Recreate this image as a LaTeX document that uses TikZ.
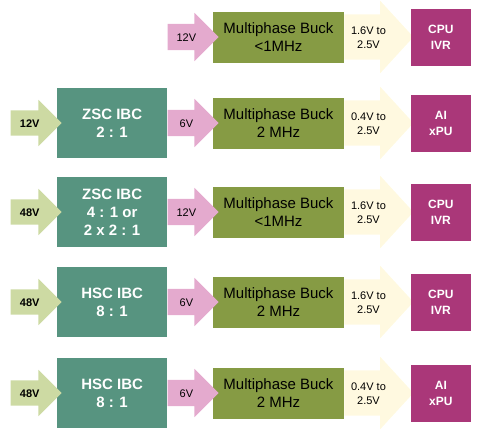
\documentclass[tikz,border=0pt]{standalone}
\usepackage{fontspec}
\setmainfont{Liberation Sans}
\usetikzlibrary{shapes.arrows, positioning}

\definecolor{ibcteal}{RGB}{87,148,128}
\definecolor{buckgreen}{RGB}{134,155,68}
\definecolor{loadpurple}{RGB}{170,55,121}
\definecolor{inputgreen}{RGB}{205,218,163}
\definecolor{midpink}{RGB}{228,170,206}
\definecolor{outcream}{RGB}{255,249,224}

\begin{document}
\begin{tikzpicture}[
    x=1pt, y=1pt,
    box/.style={rectangle, inner sep=0pt, align=center},
    ibc/.style={box, fill=ibcteal, text=white, minimum width=110pt, minimum height=70pt, font=\fontsize{15}{18}\selectfont\bfseries},
    buck/.style={box, fill=buckgreen, minimum width=131pt, minimum height=51pt, font=\fontsize{15}{18}\selectfont},
    load/.style={box, fill=loadpurple, text=white, minimum width=60pt, minimum height=57pt, font=\fontsize{12}{16}\selectfont\bfseries},
    blockarrow/.style={single arrow, inner xsep=2pt, inner ysep=0pt, align=center, single arrow tip angle=90},
    inarrow/.style={blockarrow, fill=inputgreen, minimum height=51pt, text height=16.5pt, text depth=8.5pt, single arrow head extend=10.5pt, font=\fontsize{11}{13}\selectfont\bfseries},
    midarrow/.style={blockarrow, fill=midpink, minimum height=51pt, text height=17pt, text depth=9pt, single arrow head extend=11pt, font=\fontsize{11}{13}\selectfont},
    outarrow/.style={blockarrow, fill=outcream, minimum height=69pt, text height=33.5pt, text depth=11.5pt, single arrow head extend=13.5pt, single arrow tip angle=95, font=\fontsize{11}{14}\selectfont}
]
    \useasboundingbox (0,0) rectangle (480,-431);

    % Row 1: 12V bus straight into the buck
    \node[buck] (buck1) at (278.5,-37) {Multiphase Buck\\<1MHz};
    \node[midarrow, left=-6pt of buck1] (bus1) {12V};
    \node[outarrow, right=0pt of buck1] (out1) {1.6V to\\2.5V};
    \node[load, right=-3pt of out1] (load1) {CPU\\IVR};

    % Row 2: 12V -> ZSC 2:1
    \node[buck] (buck2) at (278.5,-123) {Multiphase Buck\\2 MHz};
    \node[midarrow, left=-6pt of buck2] (bus2) {6V};
    \node[ibc, left=0pt of bus2] (ibc2) {ZSC IBC\\2 : 1};
    \node[inarrow, left=-5pt of ibc2] (in2) {12V};
    \node[outarrow, right=0pt of buck2] (out2) {0.4V to\\2.5V};
    \node[load, right=-3pt of out2] (load2) {AI\\xPU};

    % Row 3: 48V -> ZSC 4:1
    \node[buck] (buck3) at (278.5,-212) {Multiphase Buck\\<1MHz};
    \node[midarrow, left=-6pt of buck3] (bus3) {12V};
    \node[ibc, left=0pt of bus3] (ibc3) {ZSC IBC\\4 : 1 or\\2 x 2 : 1};
    \node[inarrow, left=-5pt of ibc3] (in3) {48V};
    \node[outarrow, right=0pt of buck3] (out3) {1.6V to\\2.5V};
    \node[load, right=-3pt of out3] (load3) {CPU\\IVR};

    % Row 4: 48V -> HSC 8:1, CPU
    \node[buck] (buck4) at (278.5,-302) {Multiphase Buck\\2 MHz};
    \node[midarrow, left=-6pt of buck4] (bus4) {6V};
    \node[ibc, left=0pt of bus4] (ibc4) {HSC IBC\\8 : 1};
    \node[inarrow, left=-5pt of ibc4] (in4) {48V};
    \node[outarrow, right=0pt of buck4] (out4) {1.6V to\\2.5V};
    \node[load, right=-3pt of out4] (load4) {CPU\\IVR};

    % Row 5: 48V -> HSC 8:1, AI
    \node[buck] (buck5) at (278.5,-393) {Multiphase Buck\\2 MHz};
    \node[midarrow, left=-6pt of buck5] (bus5) {6V};
    \node[ibc, left=0pt of bus5] (ibc5) {HSC IBC\\8 : 1};
    \node[inarrow, left=-5pt of ibc5] (in5) {48V};
    \node[outarrow, right=0pt of buck5] (out5) {0.4V to\\2.5V};
    \node[load, right=-3pt of out5] (load5) {AI\\xPU};

\end{tikzpicture}
\end{document}
